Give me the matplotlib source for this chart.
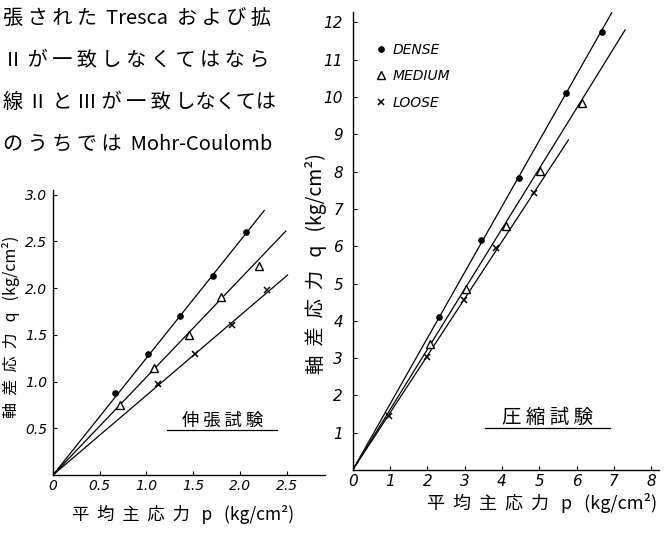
import numpy as np
import matplotlib.pyplot as plt

plt.rcParams['font.family'] = ['Noto Sans CJK JP', 'DejaVu Sans']

# 伸張試験 (extension test)
ext_dense_p = [0.66, 1.02, 1.36, 1.71, 2.06]
ext_dense_q = [0.875, 1.29, 1.70, 2.13, 2.60]
ext_medium_p = [0.72, 1.08, 1.46, 1.80, 2.20]
ext_medium_q = [0.75, 1.15, 1.50, 1.90, 2.24]
ext_loose_p = [1.125, 1.52, 1.92, 2.29]
ext_loose_q = [0.975, 1.30, 1.60, 1.975]
ext_dense_fit = ([0, 2.26], [0, 2.83])
ext_medium_fit = ([0, 2.49], [0, 2.61])
ext_loose_fit = ([0, 2.51], [0, 2.14])

# 圧縮試験 (compression test)
cmp_dense_p = [2.32, 3.43, 4.45, 5.71, 6.68]
cmp_dense_q = [4.11, 6.17, 7.82, 10.1, 11.75]
cmp_medium_p = [2.07, 3.04, 4.10, 5.02, 6.14]
cmp_medium_q = [3.37, 4.84, 6.54, 8.02, 9.85]
cmp_loose_p = [0.98, 1.98, 2.97, 3.84, 4.86]
cmp_loose_q = [1.45, 3.04, 4.56, 5.94, 7.43]
cmp_dense_fit = ([0, 6.94], [0, 12.26])
cmp_medium_fit = ([0, 7.30], [0, 11.8])
cmp_loose_fit = ([0, 5.78], [0, 8.85])

ext_xticks = [0, 0.5, 1.0, 1.5, 2.0, 2.5]
ext_yticks = [0.5, 1.0, 1.5, 2.0, 2.5, 3.0]
cmp_xticks = [0, 1, 2, 3, 4, 5, 6, 7, 8]
cmp_yticks = list(range(1, 13))

ylabel = '軸  差  応  力   q   (kg/cm²)'
xlabel = '平  均  主  応  力   p   (kg/cm²)'

top_lines = ['張 さ れ た  Tresca  お よ び 拡',
             'Ⅱ が 一 致 し な く て は な ら',
             '線 Ⅱ と Ⅲ が 一 致 しなくては',
             'の う ち で は  Mohr-Coulomb']

fig = plt.figure(figsize=(6.68, 5.35), dpi=100)

# top-left page text fragment
for i, t in enumerate(top_lines):
    fig.text(0.004, 1 - (18 + 42 * i) / 535, t, fontsize=14.5, va='center', ha='left')


def style_axes(ax, xt, yt, xfmt, yfmt, size, ypad):
    for s in ['top', 'right']:
        ax.spines[s].set_visible(False)
    for s in ['left', 'bottom']:
        ax.spines[s].set_linewidth(1.0)
    ax.set_xticks(xt)
    ax.set_xticklabels([xfmt(v) for v in xt], fontstyle='italic', family='DejaVu Sans')
    ax.set_yticks(yt)
    ax.set_yticklabels([yfmt(v) for v in yt], fontstyle='italic', family='DejaVu Sans')
    ax.tick_params(axis='x', direction='in', length=3, width=0.8, pad=3, labelsize=size)
    ax.tick_params(axis='y', direction='in', length=3, width=0.8, pad=ypad, labelsize=size)


def draw(ax, d, m, l):
    ax.plot(d[0], d[1], color='black', lw=0.9)
    ax.plot(m[0], m[1], color='black', lw=0.9)
    ax.plot(l[0], l[1], color='black', lw=0.9)


# left: extension test
ax1 = fig.add_axes([53 / 668, 60 / 535, 272 / 668, 285 / 535])
draw(ax1, ext_dense_fit, ext_medium_fit, ext_loose_fit)
ax1.plot(ext_dense_p, ext_dense_q, 'o', color='black', ms=3.8, ls='none')
ax1.plot(ext_medium_p, ext_medium_q, '^', mfc='white', mec='black', mew=1.0, ms=6, ls='none')
ax1.plot(ext_loose_p, ext_loose_q, 'x', color='black', mew=1.1, ms=5, ls='none')
ax1.set_xlim(0, 2.91)
ax1.set_ylim(0, 3.05)
style_axes(ax1, ext_xticks, ext_yticks, lambda v: '0' if v == 0 else '%.1f' % v,
           lambda v: '%.1f' % v, 10, 4)
ax1.set_ylabel(ylabel, fontsize=11.5)
ax1.yaxis.set_label_coords(-0.12, 0.52)
ax1.set_xlabel(xlabel, fontsize=12.5)
ax1.xaxis.set_label_coords(0.48, -0.105)
ax1.text(1.81, 0.58, '伸 張 試 験', fontsize=12.5, ha='center', va='center')
ax1.plot([1.22, 2.4], [0.48, 0.48], color='black', lw=0.9)

# right: compression test
ax2 = fig.add_axes([352.7 / 668, 65 / 535, 306 / 668, 458 / 535])
draw(ax2, cmp_dense_fit, cmp_medium_fit, cmp_loose_fit)
ax2.plot(cmp_dense_p, cmp_dense_q, 'o', color='black', ms=3.8, ls='none', label='DENSE')
ax2.plot(cmp_medium_p, cmp_medium_q, '^', mfc='white', mec='black', mew=1.0, ms=6, ls='none', label='MEDIUM')
ax2.plot(cmp_loose_p, cmp_loose_q, 'x', color='black', mew=1.1, ms=5, ls='none', label='LOOSE')
ax2.set_xlim(0, 8.2)
ax2.set_ylim(0, 12.28)
style_axes(ax2, cmp_xticks, cmp_yticks, lambda v: str(v), lambda v: str(v), 11, 7)
ax2.set_ylabel(ylabel, fontsize=14)
ax2.yaxis.set_label_coords(-0.085, 0.45)
ax2.set_xlabel(xlabel, fontsize=13)
ax2.xaxis.set_label_coords(0.62, -0.05)
ax2.text(5.21, 1.42, '圧 縮 試 験', fontsize=14, ha='center', va='center')
ax2.plot([3.55, 6.9], [1.12, 1.12], color='black', lw=0.9)
leg = ax2.legend(loc='upper left', bbox_to_anchor=(0.03, 0.96), frameon=False,
                 prop={'family': 'DejaVu Sans', 'style': 'italic', 'size': 10},
                 handletextpad=0.3, labelspacing=0.9, handlelength=1.0)

fig.savefig('out.png', dpi=100)
